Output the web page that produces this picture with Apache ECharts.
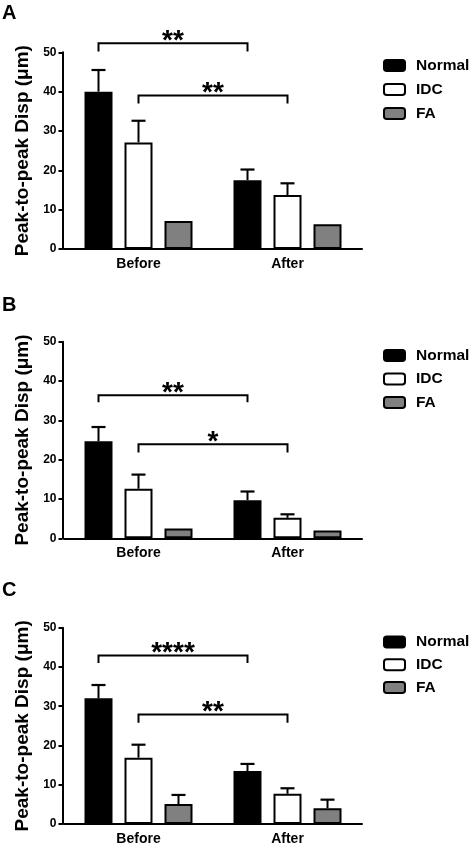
<!DOCTYPE html>
<html><head><meta charset="utf-8">
<script src="https://cdn.jsdelivr.net/npm/echarts@6/dist/echarts.min.js"></script>
<style>html,body{margin:0;padding:0;background:#fff}#c{width:472px;height:846px}</style>
</head><body><div id="c"></div>
<script>
// ---- data ----
const categories = ['Before', 'After'];
const groupNames = ['Normal', 'IDC', 'FA'];
const panelLabels = ['A', 'B', 'C'];
const yTickMax = 50;
const yTickStep = 10;
const yAxisTitle = 'Peak-to-peak Disp (μm)';

// Panel A
const aNormal = [40.0, 17.5];
const aNormalErr = [5.5, 2.7];
const aIDC = [27.1, 13.7];
const aIDCErr = [5.5, 3.0];
const aFA = [7.1, 6.3];
const aFAErr = [0, 0];
const aSig = [
  { from: [0, 0], to: [1, 0], y: 52.3, leg: 2.1, label: '**' },
  { from: [0, 1], to: [1, 1], y: 39.0, leg: 2.0, label: '**' }
];

// Panel B
const bNormal = [24.7, 9.7];
const bNormalErr = [3.6, 2.2];
const bIDC = [12.6, 5.2];
const bIDCErr = [3.6, 0.9];
const bFA = [2.5, 2.0];
const bFAErr = [0, 0];
const bSig = [
  { from: [0, 0], to: [1, 0], y: 36.4, leg: 1.8, label: '**' },
  { from: [0, 1], to: [1, 1], y: 23.9, leg: 2.1, label: '*' }
];

// Panel C
const cNormal = [32.0, 13.5];
const cNormalErr = [3.4, 1.8];
const cIDC = [16.9, 7.7];
const cIDCErr = [3.3, 1.4];
const cFA = [5.1, 4.0];
const cFAErr = [2.3, 2.2];
const cSig = [
  { from: [0, 0], to: [1, 0], y: 42.9, leg: 1.9, label: '****' },
  { from: [0, 1], to: [1, 1], y: 27.9, leg: 2.1, label: '**' }
];

const panels = [
  { vals: [aNormal, aIDC, aFA], errs: [aNormalErr, aIDCErr, aFAErr], sig: aSig },
  { vals: [bNormal, bIDC, bFA], errs: [bNormalErr, bIDCErr, bFAErr], sig: bSig },
  { vals: [cNormal, cIDC, cFA], errs: [cNormalErr, cIDCErr, cFAErr], sig: cSig }
];

// ---- layout / style ----
const FONT = "'Liberation Sans', Arial, sans-serif";
const gridLayout = [
  { top: 52.3, height: 196.7, legendTop: 57.5, legendGap: 8, letterY: 14 },
  { top: 341.7, height: 196.6, legendTop: 347.5, legendGap: 7.5, letterY: 306.5 },
  { top: 627.7, height: 197.6, legendTop: 634, legendGap: 6.7, letterY: 591.5 }
];
const GRID_LEFT = 64, GRID_WIDTH = 298;
const BAR_W = 28, BAR_GAP = 12;
const fills = ['#000000', '#ffffff', '#808080'];
const offsetOf = s => (s - 1) * (BAR_W + BAR_GAP);

const option = {
  animation: false,
  backgroundColor: '#fff',
  textStyle: { fontFamily: FONT },
  grid: [], xAxis: [], yAxis: [], series: [], legend: [], graphic: []
};

panels.forEach((p, pi) => {
  const L = gridLayout[pi];
  option.grid.push({ left: GRID_LEFT, top: L.top, width: GRID_WIDTH, height: L.height, containLabel: false });
  option.xAxis.push({
    type: 'category', gridIndex: pi, data: categories,
    axisLine: { lineStyle: { color: '#000', width: 2 } },
    axisTick: { alignWithLabel: true, length: 4, lineStyle: { color: '#000', width: 2 } },
    axisLabel: { color: '#000', fontWeight: 'bold', fontSize: 14, margin: 8, fontFamily: FONT },
    splitLine: { show: false }
  });
  option.yAxis.push({
    type: 'value', gridIndex: pi, min: 0, max: yTickMax, interval: yTickStep, offset: 1.5,
    name: yAxisTitle, nameLocation: 'middle', nameGap: 22,
    nameTextStyle: { color: '#000', fontWeight: 'bold', fontSize: 19, fontFamily: FONT },
    axisLine: { show: true, lineStyle: { color: '#000', width: 2 } },
    axisTick: { show: true, length: 4, lineStyle: { color: '#000', width: 2 } },
    axisLabel: { color: '#000', fontWeight: 'bold', fontSize: 12, margin: 6, fontFamily: FONT },
    splitLine: { show: false }
  });
  groupNames.forEach((name, s) => {
    option.series.push({
      type: 'bar', name, xAxisIndex: pi, yAxisIndex: pi,
      data: p.vals[s], barWidth: BAR_W, barGap: (BAR_GAP / BAR_W * 100) + '%',
      itemStyle: { color: fills[s], borderColor: '#000', borderWidth: 2 },
      emphasis: { disabled: true }, z: 2
    });
  });
  // error bars
  const errData = [];
  groupNames.forEach((name, s) => {
    categories.forEach((c, ci) => {
      errData.push([ci, p.vals[s][ci], p.vals[s][ci] + p.errs[s][ci], s]);
    });
  });
  option.series.push({
    type: 'custom', xAxisIndex: pi, yAxisIndex: pi, z: 3, silent: true,
    data: errData,
    renderItem: (params, api) => {
      const ci = api.value(0), v = api.value(1), top = api.value(2), s = api.value(3);
      if (top <= v) return null;
      const p0 = api.coord([ci, v]), p1 = api.coord([ci, top]);
      const x = p0[0] + offsetOf(s);
      return {
        type: 'group', children: [
          { type: 'line', shape: { x1: x, y1: p0[1], x2: x, y2: p1[1] }, style: { stroke: '#000', lineWidth: 2 } },
          { type: 'line', shape: { x1: x - 7, y1: p1[1], x2: x + 7, y2: p1[1] }, style: { stroke: '#000', lineWidth: 2.2 } }
        ]
      };
    }
  });
  // significance brackets
  option.series.push({
    type: 'custom', xAxisIndex: pi, yAxisIndex: pi, z: 4, silent: true, clip: false,
    data: p.sig.map(b => [b.from[0], b.from[1], b.to[0], b.to[1], b.y, b.y - b.leg]),
    renderItem: (params, api) => {
      const b = p.sig[params.dataIndex];
      const pa = api.coord([api.value(0), api.value(4)]);
      const pb = api.coord([api.value(2), api.value(4)]);
      const legY = api.coord([api.value(0), api.value(5)])[1];
      const x1 = pa[0] + offsetOf(api.value(1));
      const x2 = pb[0] + offsetOf(api.value(3));
      const y = pa[1];
      return {
        type: 'group', children: [
          { type: 'polyline', shape: { points: [[x1, legY], [x1, y], [x2, y], [x2, legY]] }, style: { stroke: '#000', lineWidth: 2, fill: null } },
          { type: 'text', x: (x1 + x2) / 2, y: y - 2, style: { text: b.label, font: 'bold 28px ' + FONT, fill: '#000', align: 'center', verticalAlign: 'middle' } }
        ]
      };
    }
  });
  option.legend.push({
    data: groupNames, orient: 'vertical', left: 383, top: L.legendTop, padding: 0,
    itemWidth: 21, itemHeight: 11, itemGap: L.legendGap, icon: 'roundRect',
    selectedMode: false,
    textStyle: { color: '#000', fontWeight: 'bold', fontSize: 15.5, fontFamily: FONT, padding: [0, 0, 0, 6] }
  });
  option.graphic.push({
    type: 'text', left: 2, top: L.letterY - 11,
    style: { text: panelLabels[pi], font: 'bold 20px ' + FONT, fill: '#000' }
  });
});

const chart = echarts.init(document.getElementById('c'), null, { renderer: 'canvas' });
chart.setOption(option);
</script>
</body></html>
